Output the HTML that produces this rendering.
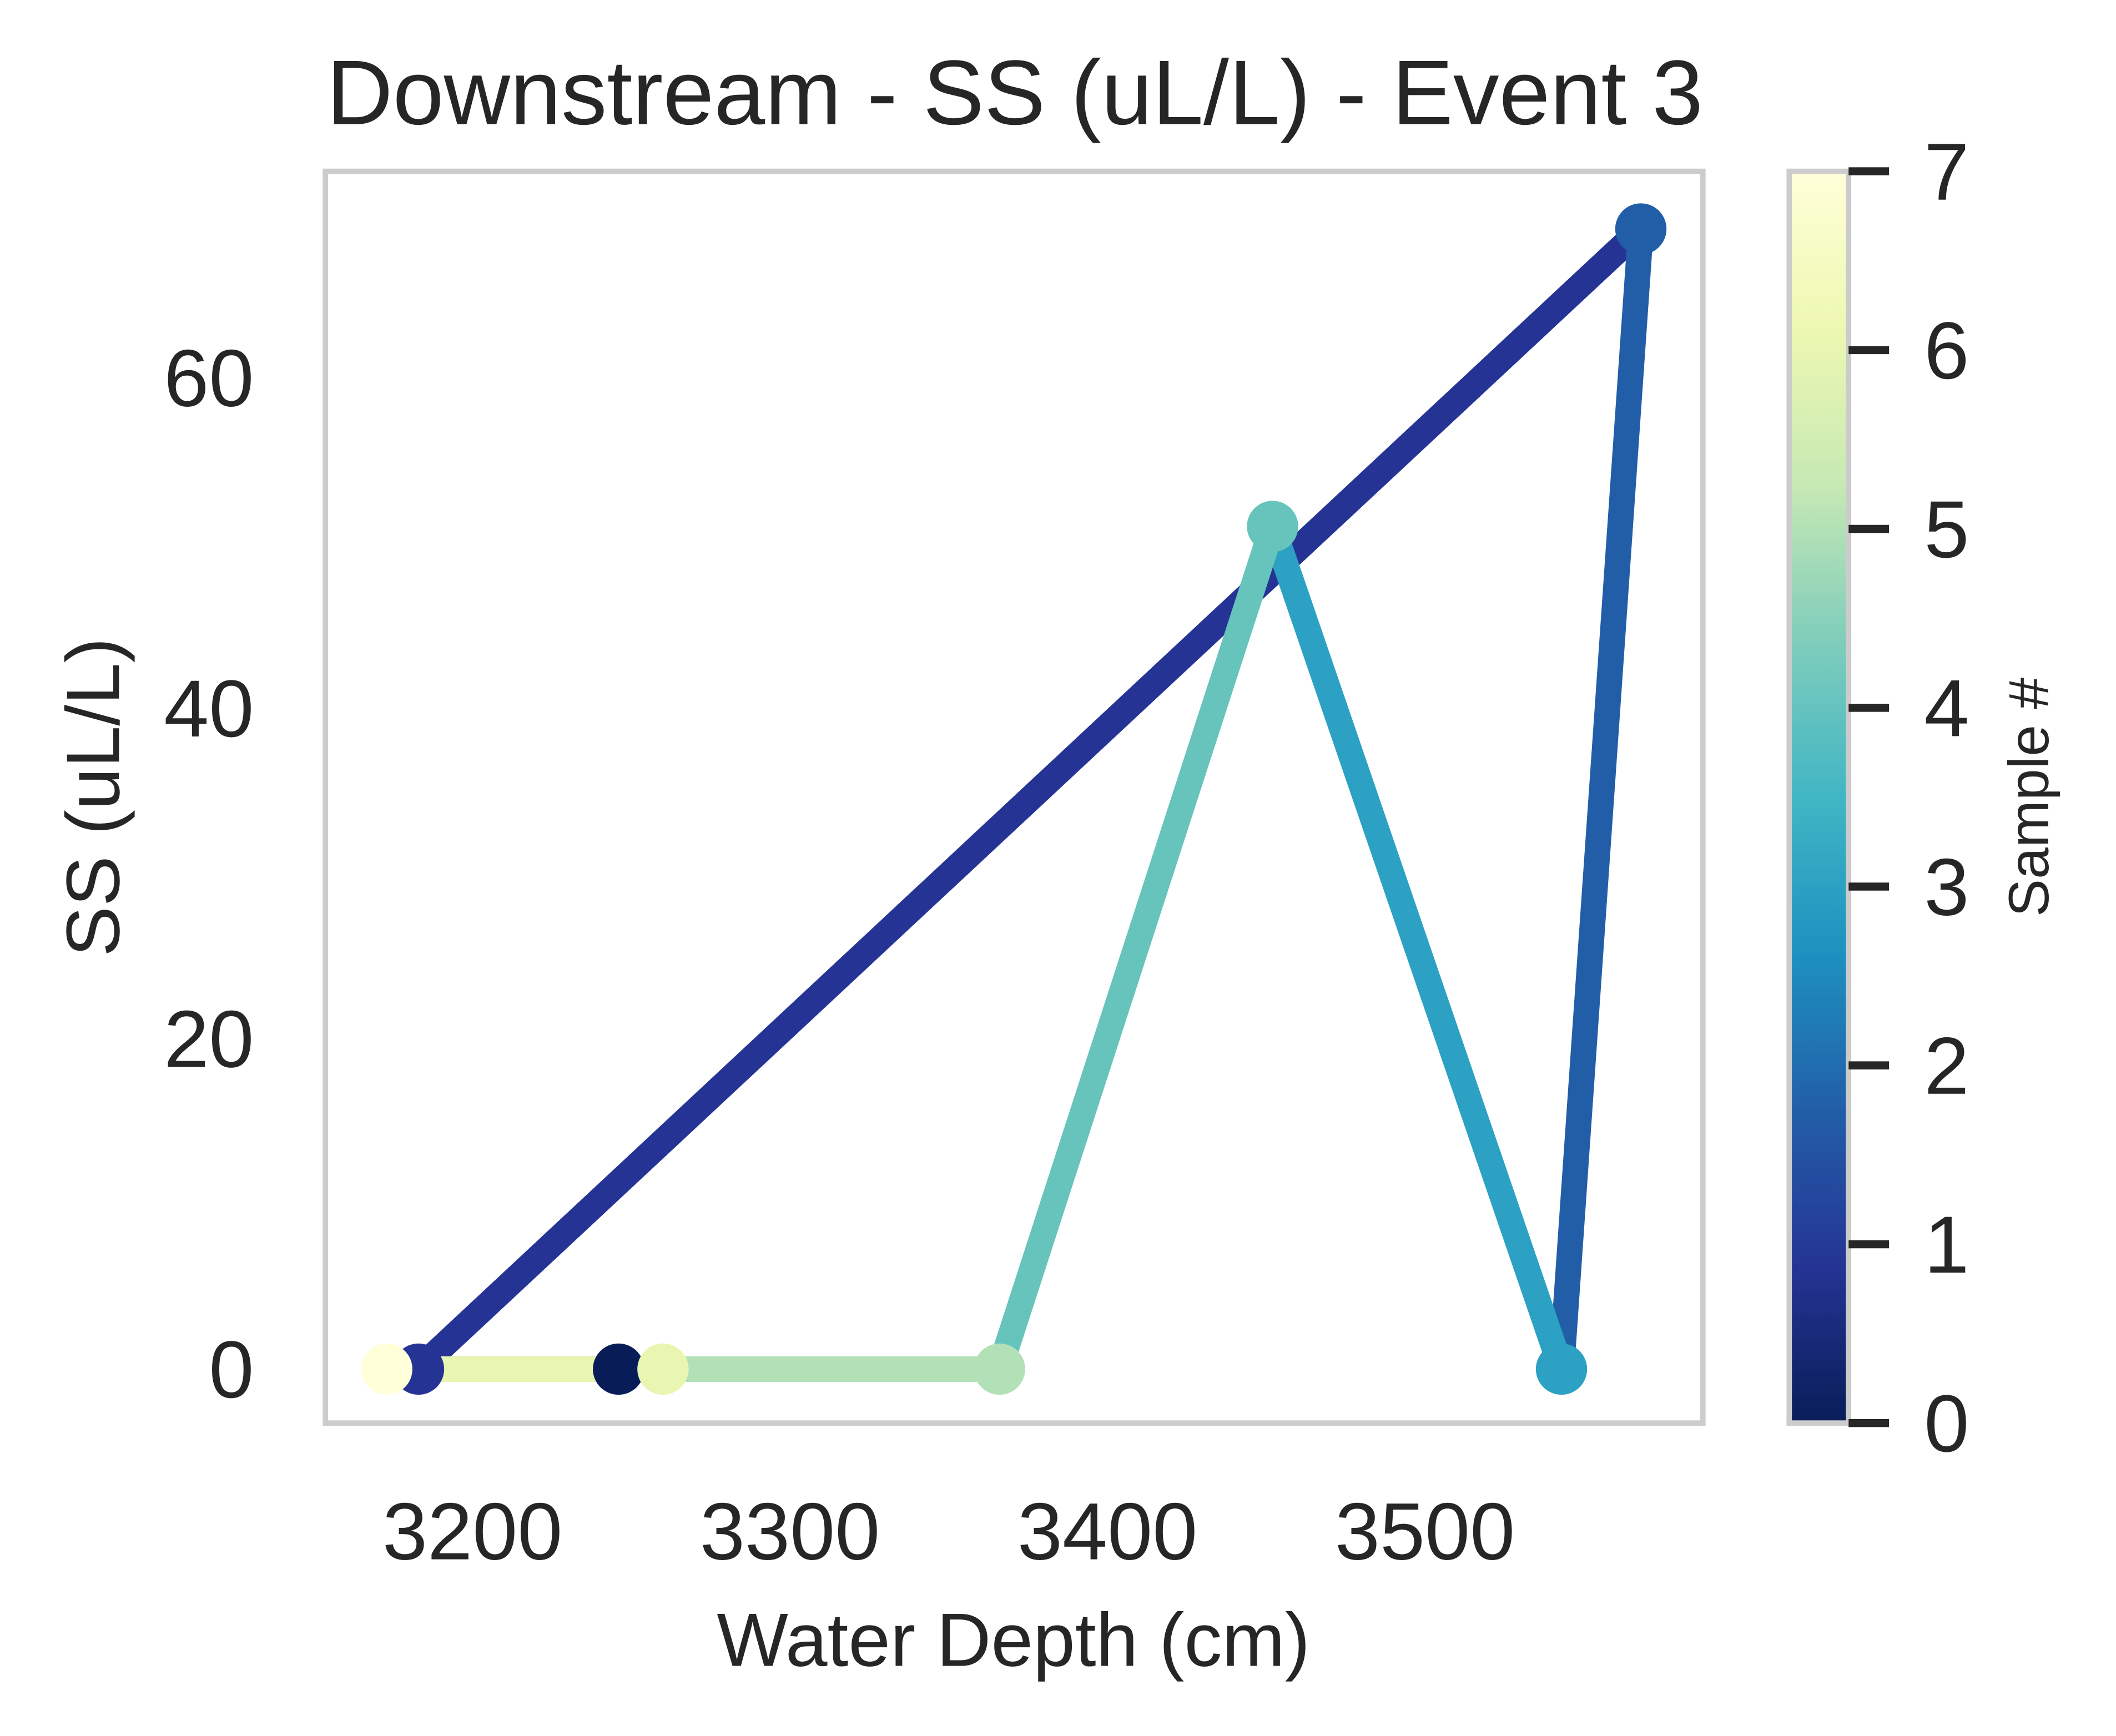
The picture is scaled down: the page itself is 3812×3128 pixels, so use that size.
<!DOCTYPE html>
<html><head><meta charset="utf-8"><style>
html,body{margin:0;padding:0;background:#fff}
svg{display:block}
text{font-family:"Liberation Sans",Arial,sans-serif;fill:#262626}
</style></head><body>
<svg id="chart" width="3812" height="3128" viewBox="0 0 1568 1287" xmlns="http://www.w3.org/2000/svg">
<defs>
<linearGradient id="cbgrad" x1="0" y1="1" x2="0" y2="0">
<stop offset="0" stop-color="#081d58"/><stop offset="0.125" stop-color="#253494"/><stop offset="0.25" stop-color="#225ea8"/><stop offset="0.375" stop-color="#1d91c0"/><stop offset="0.5" stop-color="#41b6c4"/><stop offset="0.625" stop-color="#7fcdbb"/><stop offset="0.75" stop-color="#c7e9b4"/><stop offset="0.875" stop-color="#edf8b1"/><stop offset="1" stop-color="#ffffd9"/>
</linearGradient>
</defs>
<text x="752" y="92" font-size="68" text-anchor="middle">Downstream - SS (uL/L) - Event 3</text>
<rect x="241" y="127" width="1021" height="928" fill="#fff" stroke="#cccccc" stroke-width="4"/>
<g id="marks"></g>
<g id="xticks"></g><g id="yticks"></g>
<text x="751" y="1235" font-size="56" text-anchor="middle">Water Depth (cm)</text>
<text transform="translate(88,591) rotate(-90)" font-size="56" text-anchor="middle">SS (uL/L)</text>
<rect x="1326" y="127" width="44" height="928" fill="url(#cbgrad)" stroke="#cccccc" stroke-width="4"/>
<g id="cbticks"></g>
<text transform="translate(1518,591) rotate(-90)" font-size="42" text-anchor="middle">Sample #</text>
</svg>
<script>
const depths=[3246,3183,3568,3543,3452,3366,3260,3173];
const ssValues=[0,0,69,0,51,0,0,0];
const sampleColors=['#081d58','#253494','#225ea8','#2ca1c3','#67c4bc','#b3e1b7','#e8f6b1','#ffffd9'];
const xTicks=[3200,3300,3400,3500];
const yTicks=[0,20,40,60];
const cbTicks=[0,1,2,3,4,5,6,7];
const NS='http://www.w3.org/2000/svg';
const xs=v=>350+(v-3200)*(1056-350)/300;
const ys=v=>1015-v*(1015-280)/60;
const cy=v=>1055-v*(1055-127)/7;
function mk(t,a,p){const e=document.createElementNS(NS,t);for(const k in a)e.setAttribute(k,a[k]);p.appendChild(e);return e;}
const marks=document.getElementById('marks');
for(let i=0;i<depths.length-1;i++){
 const l=mk('line',{x1:xs(depths[i]),y1:ys(ssValues[i]),x2:xs(depths[i+1]),y2:ys(ssValues[i+1]),stroke:sampleColors[i],'stroke-width':19},marks);
 
 
}
for(let i=0;i<depths.length;i++){
 const c=mk('circle',{cx:xs(depths[i]),cy:ys(ssValues[i]),r:19,fill:sampleColors[i]},marks);
 
 
}
const xg=document.getElementById('xticks');
xTicks.forEach(v=>{const t=mk('text',{x:xs(v),y:1156,'font-size':60,'text-anchor':'middle'},xg);t.textContent=v;
 
 });
const yg=document.getElementById('yticks');
yTicks.forEach(v=>{const t=mk('text',{x:188,y:ys(v)+21,'font-size':60,'text-anchor':'end'},yg);t.textContent=v;
 
 });
const cg=document.getElementById('cbticks');
cbTicks.forEach(v=>{mk('line',{x1:1370,x2:1400,y1:cy(v),y2:cy(v),stroke:'#262626','stroke-width':6},cg);
 const t=mk('text',{x:1426,y:cy(v)+21,'font-size':60},cg);t.textContent=v;
 
 });
</script>
</body></html>
